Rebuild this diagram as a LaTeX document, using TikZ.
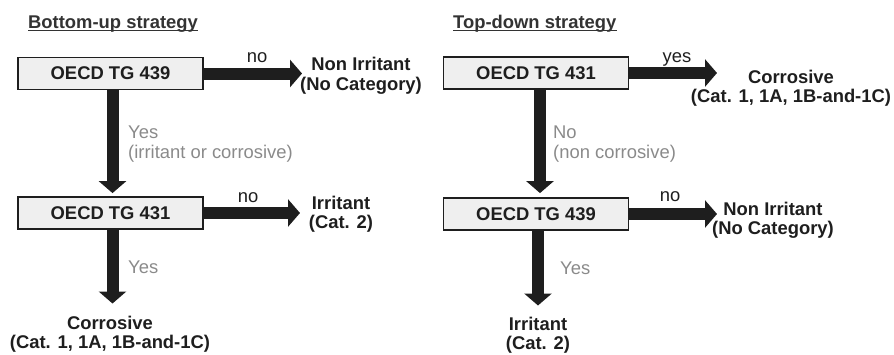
\documentclass[tikz,border=0pt]{standalone}
\usepackage{fontspec}
\setmainfont{Liberation Sans}
\usetikzlibrary{arrows.meta}
\definecolor{ink}{HTML}{1E1E1E}
\definecolor{ttlink}{HTML}{333333}
\definecolor{boxfill}{HTML}{EFEFEF}
\definecolor{lbl}{HTML}{8A8A8A}
\newcommand\diagfs{\fontsize{18.4}{19.8}\selectfont}
\begin{document}
\begin{tikzpicture}[x=1pt,y=-1pt,
  testbox/.style={draw=ink, line width=1.8pt, fill=boxfill, minimum width=185pt,
    minimum height=32pt, inner sep=0pt, font=\diagfs\bfseries, text=ink},
  fat/.style={draw=ink, line width=12pt, -{Triangle[width=27pt,length=12pt]}},
  res/.style={font=\diagfs\bfseries, text=ink, align=center, inner sep=0pt, anchor=north},
  edgelbl/.style={font=\diagfs, text=ink, inner sep=0pt, anchor=base},
  graylbl/.style={font=\diagfs, text=lbl, inner sep=0pt, align=left},
  ttl/.style={font=\diagfs\bfseries, text=ttlink, inner sep=0pt, anchor=base west},
  uline/.style={draw=ttlink, line width=1.4pt}
]
\useasboundingbox (0,0) rectangle (894,354);

% titles
\node[ttl] (t1) at (28,28) {Bottom-up strategy};
\draw[uline] ([yshift=-2.2pt]t1.base west) -- ([yshift=-2.2pt]t1.base east);
\node[ttl] (t2) at (453,28) {Top-down strategy};
\draw[uline] ([yshift=-2.2pt]t2.base west) -- ([yshift=-2.2pt]t2.base east);

% boxes
\node[testbox] (b1) at (110.5,73.5) {OECD TG 439};
\node[testbox] (b2) at (110.5,213) {OECD TG 431};
\node[testbox] (b3) at (536,73) {OECD TG 431};
\node[testbox] (b4) at (536,214) {OECD TG 439};

% results
\node[res] (ni1) at (361,57.4) {Non Irritant\\(No Category)};
\node[res] (ir1) at (341,195.5) {Irritant\\(Cat. 2)};
\node[res] (co1) at (110,315.5) {Corrosive\\(Cat. 1, 1A, 1B-and-1C)};
\node[res] (co2) at (791,69.5) {Corrosive\\(Cat. 1, 1A, 1B-and-1C)};
\node[res] (ni2) at (773,201.5) {Non Irritant\\(No Category)};
\node[res] (ir2) at (538,316.5) {Irritant\\(Cat. 2)};

% tip coordinates
\coordinate (h1) at (302,74);
\coordinate (h2) at (300,213);
\coordinate (h3) at (717,73);
\coordinate (h4) at (717,214);

% horizontal arrows
\draw[fat] (b1.east) -- (b1.east -| h1);
\draw[fat] (b2.east) -- (b2.east -| h2);
\draw[fat] (b3.east) -- (b3.east -| h3);
\draw[fat] (b4.east) -- (b4.east -| h4);

% vertical arrows
\draw[fat, shorten >=3pt] ([xshift=2pt]b1.south) -- ([xshift=2pt]b2.north);
\draw[fat, shorten >=12pt] ([xshift=2pt]b2.south) -- ([xshift=2pt]b2.south |- co1.north);
\draw[fat, shorten >=4pt] ([xshift=4pt]b3.south) -- ([xshift=4pt]b4.north);
\draw[fat, shorten >=11pt] ([xshift=2pt]b4.south) -- ([xshift=2pt]b4.south |- ir2.north);

% edge labels
\node[edgelbl] (n1) at (257,62) {no};
\node[edgelbl] (n2) at (248,202) {no};
\node[edgelbl] (n3) at (677,62) {yes};
\node[edgelbl] (n4) at (670,201) {no};

\node[graylbl, anchor=north west] (y1) at (128,125.5) {Yes\\(irritant or corrosive)};
\node[graylbl, anchor=west] (y2) at (128,267) {Yes};
\node[graylbl, anchor=north west] (y3) at (553,125.5) {No\\(non corrosive)};
\node[graylbl, anchor=west] (y4) at (560,268) {Yes};
\end{tikzpicture}
\end{document}
